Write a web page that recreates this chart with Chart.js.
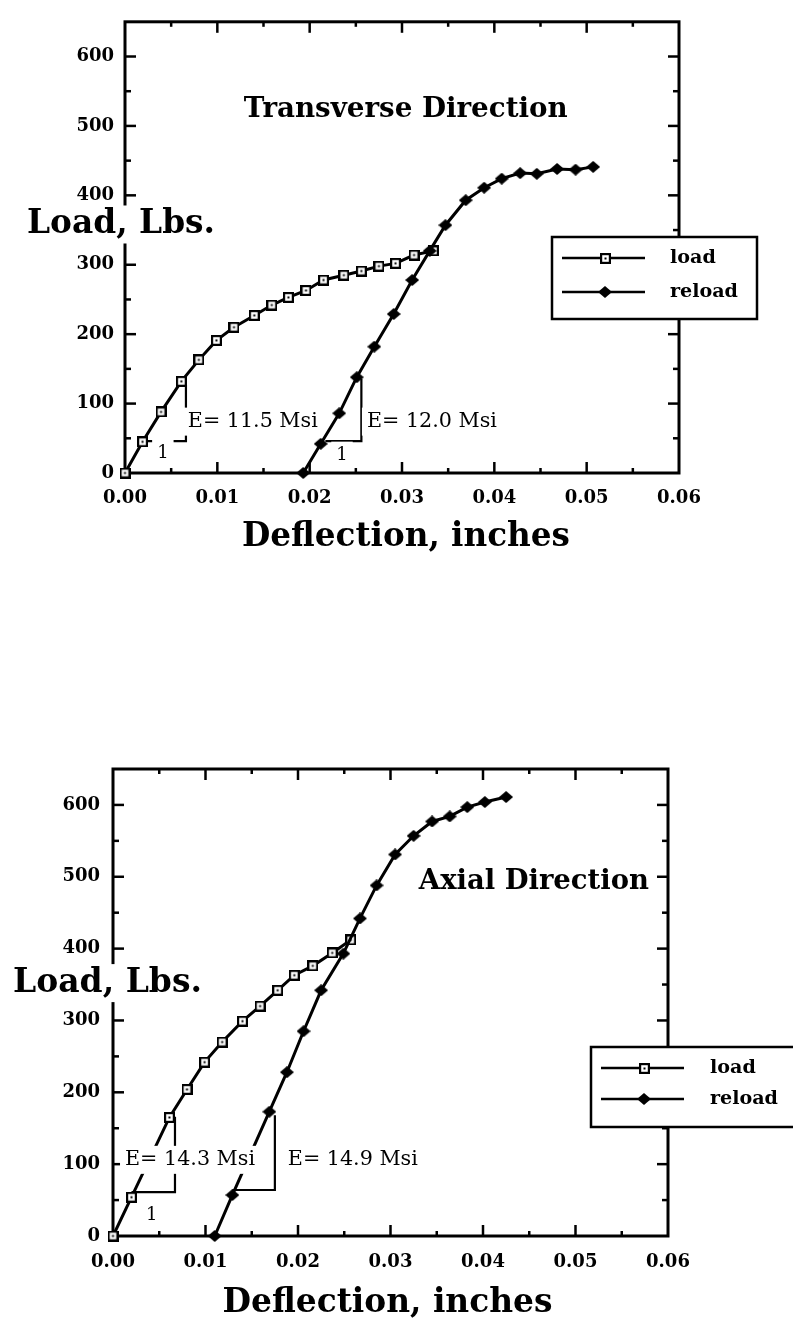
<!DOCTYPE html>
<html>
<head>
<meta charset="utf-8">
<title>Load vs Deflection</title>
<script src="https://cdn.jsdelivr.net/npm/chart.js@4.4.1/dist/chart.umd.min.js"></script>
<style>
	html, body { margin: 0; padding: 0; background: #fff; }
	body { position: relative; width: 793px; height: 1323px; overflow: hidden; }
	canvas { position: absolute; left: 0; }
	#transverse { top: 0; }
	#axial { top: 640px; }
</style>
</head>
<body>
<canvas id="transverse" width="793" height="600"></canvas>
<canvas id="axial" width="793" height="683"></canvas>
<script>
	// dados - direção transversal
	var transLoadDefl = [0, 0.0019, 0.0039, 0.0061, 0.0080, 0.0099, 0.0118, 0.0140, 0.0159, 0.0177, 0.0196, 0.0215, 0.0237, 0.0256, 0.0275, 0.0293, 0.0313, 0.0334];
	var transLoadLbs = [0, 45, 88, 132, 163, 191, 210, 227, 242, 253, 263, 278, 285, 291, 298, 302, 314, 320];
	var transReloadDefl = [0.0193, 0.0212, 0.0232, 0.0251, 0.0270, 0.0291, 0.0311, 0.0330, 0.0347, 0.0369, 0.0389, 0.0408, 0.0428, 0.0446, 0.0468, 0.0488, 0.0507];
	var transReloadLbs = [0, 42, 86, 138, 182, 229, 278, 320, 357, 393, 411, 424, 432, 431, 438, 437, 441];
	// triângulos de inclinação (E)
	var transSlopeLoadDefl = [0.0019, 0.0066, 0.0066];
	var transSlopeLoadLbs = [46, 46, 128];
	var transSlopeReloadDefl = [0.0217, 0.0256, 0.0256];
	var transSlopeReloadLbs = [46, 46, 136];

	// direção axial
	var axialLoadDefl = [0, 0.0020, 0.0061, 0.0080, 0.0099, 0.0118, 0.0140, 0.0159, 0.0178, 0.0196, 0.0216, 0.0237, 0.0257];
	var axialLoadLbs = [0, 54, 165, 204, 242, 270, 299, 320, 342, 363, 376, 394, 412];
	var axialReloadDefl = [0.0110, 0.0129, 0.0169, 0.0188, 0.0206, 0.0225, 0.0249, 0.0267, 0.0285, 0.0305, 0.0325, 0.0345, 0.0364, 0.0383, 0.0402, 0.0425];
	var axialReloadLbs = [0, 57, 173, 228, 285, 342, 393, 442, 488, 531, 557, 577, 584, 597, 604, 611];
	var axialSlopeLoadDefl = [0.0020, 0.0067, 0.0067];
	var axialSlopeLoadLbs = [61, 61, 166];
	var axialSlopeReloadDefl = [0.0129, 0.0175, 0.0175];
	var axialSlopeReloadLbs = [64, 64, 168];

	// eixos
	var seriesNames = ["load", "reload"];
	var xTickLabels = ["0.00", "0.01", "0.02", "0.03", "0.04", "0.05", "0.06"];
	var yTickLabels = ["0", "100", "200", "300", "400", "500", "600"];
	var xMax = 0.06, xStep = 0.01, yMax = 650, yStep = 100;
	var xTitle = "Deflection, inches", yTitle = "Load, Lbs.";

	var SERIF = "'DejaVu Serif', 'Liberation Serif', serif";

	// marcadores: quadrado vazado com ponto, losango cheio
	function quadrado() {
		var c = document.createElement("canvas");
		c.width = 11; c.height = 11;
		var g = c.getContext("2d");
		g.fillStyle = "#fff"; g.fillRect(0, 0, 11, 11);
		g.strokeStyle = "#000"; g.lineWidth = 2.2;
		g.strokeRect(1.1, 1.1, 8.8, 8.8);
		g.fillStyle = "#000"; g.fillRect(4.5, 4.5, 2, 2);
		return c;
	}
	function losango() {
		var c = document.createElement("canvas");
		c.width = 14; c.height = 12;
		var g = c.getContext("2d");
		g.fillStyle = "#000";
		g.beginPath();
		g.moveTo(7, 0); g.lineTo(14, 6); g.lineTo(7, 12); g.lineTo(0, 6);
		g.closePath(); g.fill();
		return c;
	}
	var marcaLoad = quadrado(), marcaReload = losango();

	function pts(xs, ys) {
		return xs.map(function(x, i) { return { x: x, y: ys[i] }; });
	}

	// ajusta o tamanho da fonte para a largura do texto original
	function fitFont(ctx, text, weight, width) {
		ctx.font = weight + " 100px " + SERIF;
		var w = ctx.measureText(text).width;
		return weight + " " + (100 * width / w).toFixed(2) + "px " + SERIF;
	}

	function linha(ctx, x1, y1, x2, y2) {
		ctx.beginPath(); ctx.moveTo(x1, y1); ctx.lineTo(x2, y2); ctx.stroke();
	}

	function textoComFundo(ctx, text, x, y, align, padX, halfH) {
		ctx.textAlign = align;
		var w = ctx.measureText(text).width;
		var left = align === "center" ? x - w / 2 : x;
		ctx.fillStyle = "#fff";
		ctx.fillRect(left - padX, y - halfH, w + 2 * padX, 2 * halfH);
		ctx.fillStyle = "#000";
		ctx.fillText(text, x, y);
	}

	var paperPlugin = {
		id: "paper",
		beforeDatasetsDraw: function(chart) {
			var ctx = chart.ctx, a = chart.chartArea, xs = chart.scales.x, ys = chart.scales.y;
			ctx.save();
			ctx.strokeStyle = "#000";
			ctx.lineWidth = 2.5;
			// marcas do eixo x (embaixo e em cima)
			xs.ticks.forEach(function(t, i) {
				var p = xs.getPixelForValue(t.value);
				if (t.value > xs.min + 1e-9 && t.value < xs.max - 1e-9) {
					linha(ctx, p, a.bottom, p, a.bottom - 11);
					linha(ctx, p, a.top, p, a.top + 11);
				}
				var prox = xs.ticks[i + 1];
				if (prox) {
					var m = xs.getPixelForValue((t.value + prox.value) / 2);
					linha(ctx, m, a.bottom, m, a.bottom - 5);
					linha(ctx, m, a.top, m, a.top + 5);
				}
			});
			// marcas do eixo y (esquerda e direita)
			ys.ticks.forEach(function(t) {
				if (t.value % yStep !== 0) return;
				var p = ys.getPixelForValue(t.value);
				if (t.value > ys.min && t.value < ys.max) {
					linha(ctx, a.left, p, a.left + 11, p);
					linha(ctx, a.right, p, a.right - 11, p);
				}
				var meio = t.value + yStep / 2;
				if (meio < ys.max) {
					var q = ys.getPixelForValue(meio);
					linha(ctx, a.left, q, a.left + 6, q);
					linha(ctx, a.right, q, a.right - 6, q);
				}
			});
			ctx.lineWidth = 3;
			ctx.strokeRect(a.left, a.top, a.right - a.left, a.bottom - a.top);
			ctx.restore();
		},
		afterDraw: function(chart, args, o) {
			var ctx = chart.ctx, a = chart.chartArea, xs = chart.scales.x, ys = chart.scales.y;
			ctx.save();
			ctx.textBaseline = "middle";
			ctx.fillStyle = "#000";

			// título da direção
			ctx.font = fitFont(ctx, o.title, "bold", o.titleWidth);
			ctx.textAlign = "center";
			ctx.fillText(o.title, xs.getPixelForValue(o.titleAt[0]), ys.getPixelForValue(o.titleAt[1]));

			// título do eixo x
			ctx.font = fitFont(ctx, xTitle, "bold", o.xTitleWidth);
			ctx.fillText(xTitle, (a.left + a.right) / 2 + o.xTitleShift, a.bottom + o.xTitleGap);

			// título do eixo y, corta a linha do eixo
			ctx.font = fitFont(ctx, yTitle, "bold", o.yTitleWidth);
			textoComFundo(ctx, yTitle, a.left + o.yTitleDx, ys.getPixelForValue(o.yTitleAt), "left", 3, 19);

			// anotações E= ... e "1"
			o.notes.forEach(function(n) {
				if (n.text === "1") ctx.font = "18px " + SERIF;
				else ctx.font = fitFont(ctx, n.text, "normal", o.noteWidth);
				textoComFundo(ctx, n.text, xs.getPixelForValue(n.x), ys.getPixelForValue(n.y), n.align, 5, 14);
			});

			// legenda
			var L = o.legend;
			ctx.fillStyle = "#fff";
			ctx.fillRect(L.left, L.top, L.right - L.left, L.bottom - L.top);
			ctx.strokeStyle = "#000";
			ctx.lineWidth = 2.5;
			ctx.strokeRect(L.left, L.top, L.right - L.left, L.bottom - L.top);
			ctx.font = fitFont(ctx, "reload", "bold", L.textWidth);
			ctx.textAlign = "left";
			var marcas = [marcaLoad, marcaReload];
			seriesNames.forEach(function(nome, i) {
				var y = L.rows[i];
				ctx.lineWidth = 2.5;
				linha(ctx, L.lineFrom, y, L.lineTo, y);
				var m = marcas[i];
				ctx.drawImage(m, Math.round(L.mark - m.width / 2), Math.round(y - m.height / 2));
				ctx.fillStyle = "#000";
				ctx.fillText(nome, L.textX, y);
			});
			ctx.restore();
		}
	};

	function montaGrafico(id, cfg) {
		var fonteTick = { family: SERIF, weight: "bold", size: 18 };
		return new Chart(document.getElementById(id), {
			type: "line",
			data: {
				datasets: [
					{ label: seriesNames[0], data: pts(cfg.loadX, cfg.loadY), borderColor: "#000", borderWidth: 3,
					  pointStyle: marcaLoad, pointRadius: 5, tension: 0, clip: false, order: 1 },
					{ label: seriesNames[1], data: pts(cfg.reloadX, cfg.reloadY), borderColor: "#000", borderWidth: 3,
					  pointStyle: marcaReload, pointRadius: 5, tension: 0, clip: false, order: 0 },
					{ label: "slope load", data: pts(cfg.slopeLoadX, cfg.slopeLoadY), borderColor: "#000", borderWidth: 2.2,
					  pointRadius: 0, tension: 0, clip: false, order: 2 },
					{ label: "slope reload", data: pts(cfg.slopeReloadX, cfg.slopeReloadY), borderColor: "#000", borderWidth: 2.2,
					  pointRadius: 0, tension: 0, clip: false, order: 2 }
				]
			},
			options: {
				responsive: false,
				animation: false,
				devicePixelRatio: 1,
				layout: { padding: cfg.pad },
				plugins: {
					legend: { display: false },
					tooltip: { enabled: false },
					paper: cfg.paper
				},
				scales: {
					x: {
						type: "linear", min: 0, max: xMax,
						grid: { display: false, drawTicks: false, tickLength: 0 },
						border: { display: false },
						ticks: {
							stepSize: xStep, autoSkip: false, maxRotation: 0, padding: cfg.xPad,
							color: "#000", font: fonteTick,
							callback: function(v, i) { return xTickLabels[i] || ""; }
						},
						afterFit: function(s) { s.height = cfg.xHeight; }
					},
					y: {
						type: "linear", min: 0, max: yMax,
						grid: { display: false, drawTicks: false, tickLength: 0 },
						border: { display: false },
						ticks: {
							stepSize: yStep, autoSkip: false, padding: cfg.yPad,
							color: "#000", font: fonteTick,
							callback: function(v, i) { return yTickLabels[i] || ""; }
						},
						afterFit: function(s) { s.width = cfg.yWidth; }
					}
				}
			},
			plugins: [paperPlugin]
		});
	}

	// gráfico de cima
	montaGrafico("transverse", {
		loadX: transLoadDefl, loadY: transLoadLbs,
		reloadX: transReloadDefl, reloadY: transReloadLbs,
		slopeLoadX: transSlopeLoadDefl, slopeLoadY: transSlopeLoadLbs,
		slopeReloadX: transSlopeReloadDefl, slopeReloadY: transSlopeReloadLbs,
		pad: { top: 11, right: 114, left: 0, bottom: 0 },
		xHeight: 127, yWidth: 125, xPad: 15, yPad: 11,
		paper: {
			title: "Transverse Direction", titleWidth: 324, titleAt: [0.0304, 523],
			xTitleWidth: 328, xTitleShift: 4, xTitleGap: 65,
			yTitleWidth: 188, yTitleDx: -98, yTitleAt: 358,
			noteWidth: 130,
			notes: [
				{ text: "E= 11.5 Msi", x: 0.0068, y: 74, align: "left" },
				{ text: "E= 12.0 Msi", x: 0.0262, y: 74, align: "left" },
				{ text: "1", x: 0.0041, y: 28, align: "center" },
				{ text: "1", x: 0.0235, y: 25, align: "center" }
			],
			legend: { left: 552, top: 237, right: 757, bottom: 319, rows: [258, 292],
			          lineFrom: 562, lineTo: 645, mark: 605, textX: 670, textWidth: 68 }
		}
	});

	// gráfico de baixo
	montaGrafico("axial", {
		loadX: axialLoadDefl, loadY: axialLoadLbs,
		reloadX: axialReloadDefl, reloadY: axialReloadLbs,
		slopeLoadX: axialSlopeLoadDefl, slopeLoadY: axialSlopeLoadLbs,
		slopeReloadX: axialSlopeReloadDefl, slopeReloadY: axialSlopeReloadLbs,
		pad: { top: 129, right: 125, left: 0, bottom: 0 },
		xHeight: 87, yWidth: 113, xPad: 16, yPad: 13,
		paper: {
			title: "Axial Direction", titleWidth: 230, titleAt: [0.0455, 493],
			xTitleWidth: 330, xTitleShift: -3, xTitleGap: 67,
			yTitleWidth: 189, yTitleDx: -100, yTitleAt: 352,
			noteWidth: 130,
			notes: [
				{ text: "E= 14.3 Msi", x: 0.0013, y: 106, align: "left" },
				{ text: "E= 14.9 Msi", x: 0.0189, y: 106, align: "left" },
				{ text: "1", x: 0.0042, y: 29, align: "center" }
			],
			legend: { left: 591, top: 407, right: 797, bottom: 487, rows: [428, 459],
			          lineFrom: 601, lineTo: 684, mark: 644, textX: 710, textWidth: 68 }
		}
	});
</script>
</body>
</html>
